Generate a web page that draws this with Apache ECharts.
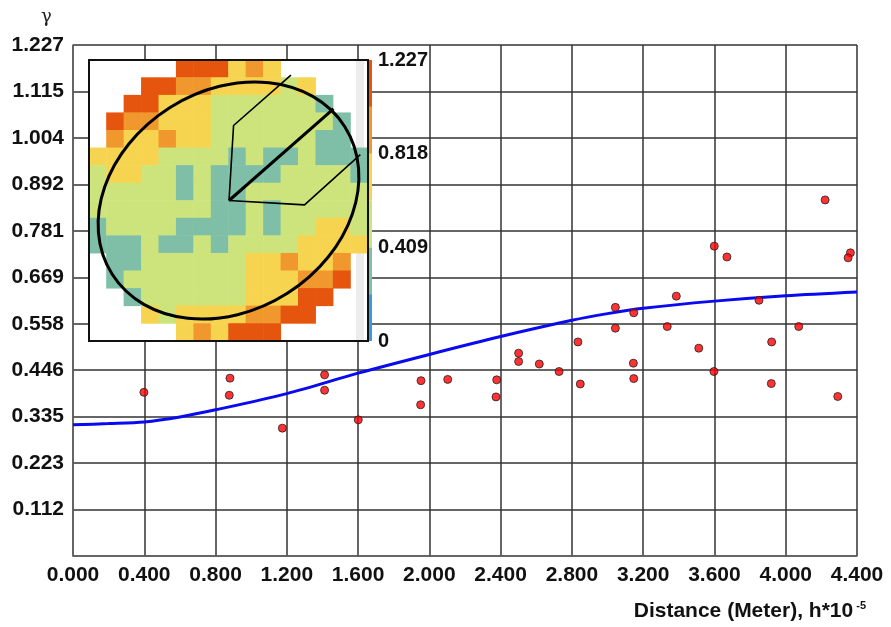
<!DOCTYPE html>
<html>
<head>
<meta charset="utf-8">
<script src="https://cdn.jsdelivr.net/npm/echarts@6/dist/echarts.min.js"></script>
<style>
  html, body { margin: 0; padding: 0; background: #fff; }
  #chart { width: 891px; height: 627px; }
</style>
</head>
<body>
<div id="chart"></div>
<script>
// ---- Experimental semivariogram (lag h*10^-5 m, semivariance γ) ----
const expLag = [0.398, 0.881, 0.877, 1.175, 1.412, 1.412, 1.601, 1.953, 1.951, 2.103,
                2.378, 2.374, 2.501, 2.501, 2.617, 2.728, 2.834, 2.847, 3.044, 3.044,
                3.147, 3.145, 3.147, 3.335, 3.386, 3.512, 3.599, 3.597, 3.670, 3.850,
                3.921, 3.919, 4.073, 4.221, 4.292, 4.363, 4.350];
const expGamma = [0.393, 0.427, 0.386, 0.307, 0.435, 0.398, 0.327, 0.421, 0.363, 0.424,
                  0.423, 0.382, 0.487, 0.467, 0.461, 0.443, 0.514, 0.413, 0.597, 0.547,
                  0.584, 0.463, 0.426, 0.551, 0.624, 0.499, 0.744, 0.443, 0.718, 0.614,
                  0.514, 0.414, 0.551, 0.855, 0.383, 0.728, 0.716];

// ---- Fitted variogram model ----
const modelLag = [0, 0.2, 0.4, 0.6, 0.8, 1.2, 1.6, 2.0, 2.4, 2.8, 3.0, 3.2, 3.6, 4.0, 4.4];
const modelGamma = [0.315, 0.318, 0.322, 0.334, 0.351, 0.390, 0.439, 0.484, 0.527, 0.566, 0.582, 0.595, 0.612, 0.625, 0.634];

// ---- Axis ranges ----
const lagMax = 4.4, lagStep = 0.4;
const gammaMax = 1.227, gammaDivisions = 11;

// ---- Variogram surface map (16 x 16 cells, top row first) ----
const N = null;
const surfaceRows = [
  [N, N, N, N, N, 1.12, 1.12, 1.12, 0.72, 0.92, 0.72, N, N, N, N, N],
  [N, N, N, 1.12, 1.12, 0.92, 0.92, 0.72, 0.72, 0.72, 0.72, 0.51, 0.72, N, N, N],
  [N, N, 1.12, 1.12, 0.72, 0.72, 0.72, 0.51, 0.51, 0.51, 0.51, 0.51, 0.51, 0.31, N, N],
  [N, 1.12, 0.92, 0.92, 0.72, 0.72, 0.72, 0.51, 0.51, 0.51, 0.51, 0.51, 0.51, 0.51, 0.31, N],
  [N, 0.92, 0.72, 0.72, 0.92, 0.72, 0.72, 0.51, 0.51, 0.51, 0.51, 0.51, 0.51, 0.31, 0.31, N],
  [0.72, 0.72, 0.72, 0.72, 0.51, 0.51, 0.51, 0.51, 0.31, 0.51, 0.31, 0.31, 0.51, 0.31, 0.31, 0.31],
  [0.51, 0.72, 0.72, 0.51, 0.51, 0.31, 0.51, 0.31, 0.31, 0.31, 0.31, 0.51, 0.51, 0.51, 0.51, 0.31],
  [0.51, 0.51, 0.51, 0.51, 0.51, 0.31, 0.51, 0.31, 0.31, 0.51, 0.51, 0.51, 0.51, 0.51, 0.51, 0.51],
  [0.51, 0.51, 0.51, 0.51, 0.51, 0.51, 0.51, 0.31, 0.31, 0.51, 0.31, 0.51, 0.51, 0.51, 0.51, 0.51],
  [0.31, 0.51, 0.51, 0.51, 0.51, 0.31, 0.31, 0.31, 0.31, 0.51, 0.31, 0.51, 0.51, 0.72, 0.72, 0.51],
  [0.31, 0.31, 0.31, 0.51, 0.31, 0.31, 0.51, 0.31, 0.51, 0.51, 0.51, 0.51, 0.72, 0.72, 0.72, 0.72],
  [N, 0.31, 0.31, 0.51, 0.51, 0.51, 0.51, 0.51, 0.51, 0.72, 0.72, 0.92, 0.72, 0.72, 0.92, N],
  [N, 0.31, 0.51, 0.51, 0.51, 0.51, 0.51, 0.51, 0.51, 0.72, 0.72, 0.72, 0.92, 0.92, 1.12, N],
  [N, N, 0.31, 0.51, 0.51, 0.51, 0.51, 0.51, 0.51, 0.72, 0.72, 0.72, 1.12, 1.12, N, N],
  [N, N, N, 0.72, 0.51, 0.72, 0.72, 0.72, 0.72, 0.92, 0.92, 1.12, 1.12, N, N, N],
  [N, N, N, N, N, 0.72, 0.92, 0.72, 1.12, 1.12, 1.12, N, N, N, N, N]
];

// Colour classes of the surface map
const classBreaks = [0, 0.2045, 0.409, 0.6135, 0.818, 1.0225, 1.227];
const classColors = ['#3d9bd9', '#7fbfa7', '#cde37c', '#f7d44f', '#f0982e', '#e6550d'];

// Anisotropy ellipse and search directions, in map cell units (origin bottom-left)
const anisotropy = { cx: 8.0, cy: 8.0, major: 7.9, minor: 6.3, angleDeg: 32.4 };
const mainDirection = [[8.03, 8.0], [14.02, 13.22]];
const toleranceUpper = [[8.03, 8.0], [8.29, 12.27], [11.58, 15.14]];
const toleranceLower = [[8.03, 8.0], [12.36, 7.75], [15.56, 10.61]];

// ---- Build ----
const mapSize = surfaceRows.length;
const cellIndex = Array.from({ length: mapSize }, (_, i) => String(i));
const heatData = [];
surfaceRows.forEach((row, r) => row.forEach((v, c) => { if (v !== null) heatData.push([c, r, v]); }));

const labelFont = { fontFamily: 'Liberation Sans, Arial, sans-serif', fontWeight: 'bold', fontSize: 21, color: '#111' };
const insetRect = { left: 89, top: 60, width: 279, height: 281 };

const chart = echarts.init(document.getElementById('chart'));

const colorbarSeries = classColors.map((col, i) => ({
  type: 'bar', xAxisIndex: 3, yAxisIndex: 3, stack: 'scale', barWidth: '100%',
  data: [classBreaks[i + 1] - classBreaks[i]], itemStyle: { color: col },
  silent: true, z: 6
}));

const option = {
  animation: false,
  backgroundColor: '#fff',
  title: [
    { text: 'γ', left: 36, top: 3,
      textStyle: { fontFamily: 'DejaVu Serif, Liberation Serif, serif', fontSize: 18, fontWeight: 'normal', color: '#222' } },
    { text: '{m|Distance (Meter), h*10}{s| -5}', right: 20, top: 595,
      textStyle: { rich: {
        m: { fontFamily: 'Liberation Sans, Arial, sans-serif', fontWeight: 'bold', fontSize: 21, color: '#111' },
        s: { fontFamily: 'Liberation Sans, Arial, sans-serif', fontWeight: 'bold', fontSize: 11, color: '#111', verticalAlign: 'top', padding: [0, 0, 12, 0] }
      } } }
  ],
  grid: [
    { left: 73, top: 45, width: 784, height: 511, show: false },
    { left: insetRect.left, top: insetRect.top, width: insetRect.width, height: insetRect.height,
      show: true, backgroundColor: '#fff', borderWidth: 0, z: 1 },
    { left: insetRect.left + insetRect.width + 1, top: insetRect.top, width: 3, height: insetRect.height, show: false, z: 4 },
    // narrow frame strip along the right edge of the map
    { left: insetRect.left + insetRect.width - 12, top: insetRect.top, width: 8, height: insetRect.height, show: false }
  ],
  xAxis: [
    { type: 'value', gridIndex: 0, min: 0, max: lagMax, interval: lagStep, z: 0,
      axisLine: { show: true, lineStyle: { color: '#666', width: 1.5 } },
      axisTick: { show: false },
      splitLine: { show: true, lineStyle: { color: '#333', width: 1.5 } },
      axisLabel: Object.assign({ margin: 9, formatter: v => v.toFixed(3) }, labelFont) },
    { type: 'category', gridIndex: 1, data: cellIndex, show: false },
    { type: 'value', gridIndex: 1, min: 0, max: mapSize, show: false },
    { type: 'category', gridIndex: 2, data: ['scale'], show: false },
    { type: 'category', gridIndex: 3, data: ['frame'], show: false }
  ],
  yAxis: [
    { type: 'value', gridIndex: 0, min: 0, max: gammaMax, interval: gammaMax / gammaDivisions, z: 0,
      axisLine: { show: true, lineStyle: { color: '#666', width: 1.5 } },
      axisTick: { show: false },
      splitLine: { show: true, lineStyle: { color: '#333', width: 1.5 } },
      axisLabel: Object.assign({ margin: 9, formatter: v => v < 1e-9 ? '' : v.toFixed(3) }, labelFont) },
    { type: 'category', gridIndex: 1, data: cellIndex, inverse: true, show: false },
    { type: 'value', gridIndex: 1, min: 0, max: mapSize, show: false },
    { type: 'value', gridIndex: 2, min: 0, max: gammaMax, interval: classBreaks[2], position: 'right',
      axisLine: { show: false }, axisTick: { show: false }, splitLine: { show: false },
      axisLabel: Object.assign({ margin: 6, formatter: v => v < 1e-9 ? '0' : v.toFixed(3) }, labelFont, { fontSize: 20 }) },
    { type: 'value', gridIndex: 3, min: 0, max: 1, show: false }
  ],
  visualMap: {
    type: 'piecewise', show: false, seriesIndex: 2,
    pieces: classColors.map((col, i) => ({ gte: classBreaks[i], lt: classBreaks[i + 1] + (i === classColors.length - 1 ? 1e-6 : 0), color: col }))
  },
  series: [
    { name: 'model', type: 'line', xAxisIndex: 0, yAxisIndex: 0, smooth: 0.3, showSymbol: false,
      lineStyle: { color: '#0a0af0', width: 3 }, data: modelLag.map((x, i) => [x, modelGamma[i]]), z: 3, silent: true },
    { name: 'experimental', type: 'scatter', xAxisIndex: 0, yAxisIndex: 0, symbolSize: 8,
      itemStyle: { color: '#ff0000', borderColor: '#222', borderWidth: 1 },
      data: expLag.map((x, i) => [x, expGamma[i]]), z: 4, silent: true },
    { name: 'surface', type: 'heatmap', xAxisIndex: 1, yAxisIndex: 1, data: heatData,
      itemStyle: { borderWidth: 0 }, z: 8, silent: true, emphasis: { disabled: true } },
    { type: 'line', xAxisIndex: 2, yAxisIndex: 2, data: mainDirection, showSymbol: false,
      lineStyle: { color: '#000', width: 3 }, z: 12, silent: true },
    { type: 'line', xAxisIndex: 2, yAxisIndex: 2, data: toleranceUpper, showSymbol: false,
      lineStyle: { color: '#000', width: 1.6 }, z: 12, silent: true },
    { type: 'line', xAxisIndex: 2, yAxisIndex: 2, data: toleranceLower, showSymbol: false,
      lineStyle: { color: '#000', width: 1.6 }, z: 12, silent: true },
    { type: 'bar', xAxisIndex: 4, yAxisIndex: 4, data: [1], barWidth: '100%',
      itemStyle: { color: '#ececec' }, z: 5, silent: true }
  ].concat(colorbarSeries)
};

chart.setOption(option);

// Ellipse and inset frame, placed with the inset's own coordinate system
const finder = { xAxisIndex: 2, yAxisIndex: 2 };
const ctr = chart.convertToPixel(finder, [anisotropy.cx, anisotropy.cy]);
const one = chart.convertToPixel(finder, [anisotropy.cx + 1, anisotropy.cy]);
const unit = one[0] - ctr[0];
chart.setOption({
  graphic: [
    { type: 'ellipse', z: 14, silent: true, x: ctr[0], y: ctr[1],
      rotation: anisotropy.angleDeg * Math.PI / 180,
      shape: { cx: 0, cy: 0, rx: anisotropy.major * unit, ry: anisotropy.minor * unit },
      style: { fill: null, stroke: '#000', lineWidth: 3 } },
    { type: 'rect', z: 15, silent: true,
      shape: { x: insetRect.left, y: insetRect.top, width: insetRect.width, height: insetRect.height },
      style: { fill: null, stroke: '#111', lineWidth: 2 } }
  ]
});
</script>
</body>
</html>
